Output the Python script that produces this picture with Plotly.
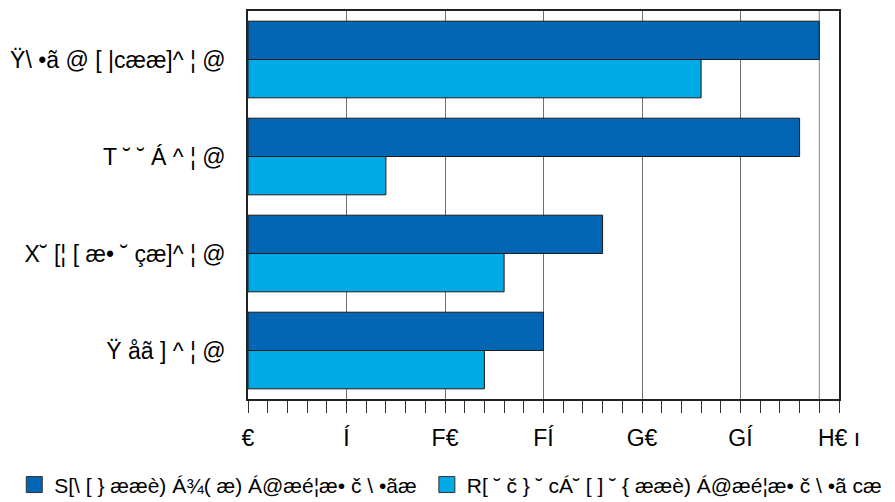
import plotly.graph_objects as go

categories = ["Ÿ\\ •ã @ [ |cææ]^ ¦ @", "T ˘ ˘ Á ^ ¦ @", "X˘ [¦ [ æ• ˘ çæ]^ ¦ @", "Ÿ åã ] ^ ¦ @"]
series_names = ["S[\\ [ } ææè) Á¾( æ) Á@æé¦æ• č \\ •ãæ",
                "R[ ˘ č } ˘ cÁ˘ [ ] ˘ { ææè) Á@æé¦æ• č \\ •ã cæ"]
dark_values = [29.0, 28.0, 18.0, 15.0]
light_values = [23.0, 7.0, 13.0, 12.0]
tick_values = [0, 5, 10, 15, 20, 25, 30]
tick_labels = ["€", "Í", "F€", "FÍ", "G€", "GÍ", "H€ ı"]
colors = ["#0066B3", "#00AAE4"]

font_family = "Liberation Sans, Arial, sans-serif"

fig = go.Figure()
for vals, name, col, lg in [(dark_values, series_names[0], colors[0], "legend"),
                            (light_values, series_names[1], colors[1], "legend2")]:
    fig.add_trace(go.Bar(
        y=categories, x=vals, name=name, orientation="h", showlegend=False,
        marker=dict(color=col, line=dict(color="#1a1a1a", width=1)),
    ))
    fig.add_trace(go.Scatter(
        x=[None], y=[None], mode="markers", name=name, legend=lg, showlegend=True,
        marker=dict(symbol="square", size=20, color=col, line=dict(color="#333333", width=1)),
    ))

# reference line at the largest value
fig.add_shape(type="line", xref="x", yref="paper",
              x0=max(dark_values), x1=max(dark_values), y0=0, y1=1,
              line=dict(color="#808080", width=1), layer="below")

legend_common = dict(orientation="h", xref="container", yref="container",
                     xanchor="left", yanchor="middle", y=0.05,
                     font=dict(size=21), itemwidth=30, bgcolor="rgba(0,0,0,0)")
fig.update_layout(
    width=895, height=502,
    margin=dict(l=240, r=64, t=3, b=111, autoexpand=False),
    paper_bgcolor="white", plot_bgcolor="white",
    barmode="group", bargap=0.21, bargroupgap=0,
    font=dict(family=font_family, size=23, color="#000000"),
    showlegend=True,
    legend=dict(x=0.007, **legend_common),
    legend2=dict(x=0.468, **legend_common),
)
fig.update_xaxes(
    range=[0, 30], tickvals=tick_values, ticktext=tick_labels,
    showgrid=True, gridcolor="#707070", gridwidth=1,
    showline=True, linecolor="#222222", linewidth=1.5, mirror=True,
    ticks="outside", ticklen=12, tickcolor="#333333", tickwidth=1,
    minor=dict(dtick=1, ticks="outside", ticklen=12, tickcolor="#333333", showgrid=False),
    ticklabelstandoff=6, automargin=False,
    tickfont=dict(size=23), zeroline=False,
)
fig.update_yaxes(
    autorange="reversed", showgrid=False,
    showline=True, linecolor="#222222", linewidth=1.5, mirror=True,
    ticks="", ticklabelstandoff=16, tickfont=dict(size=23), automargin=False,
)

fig.write_html("out.html")
